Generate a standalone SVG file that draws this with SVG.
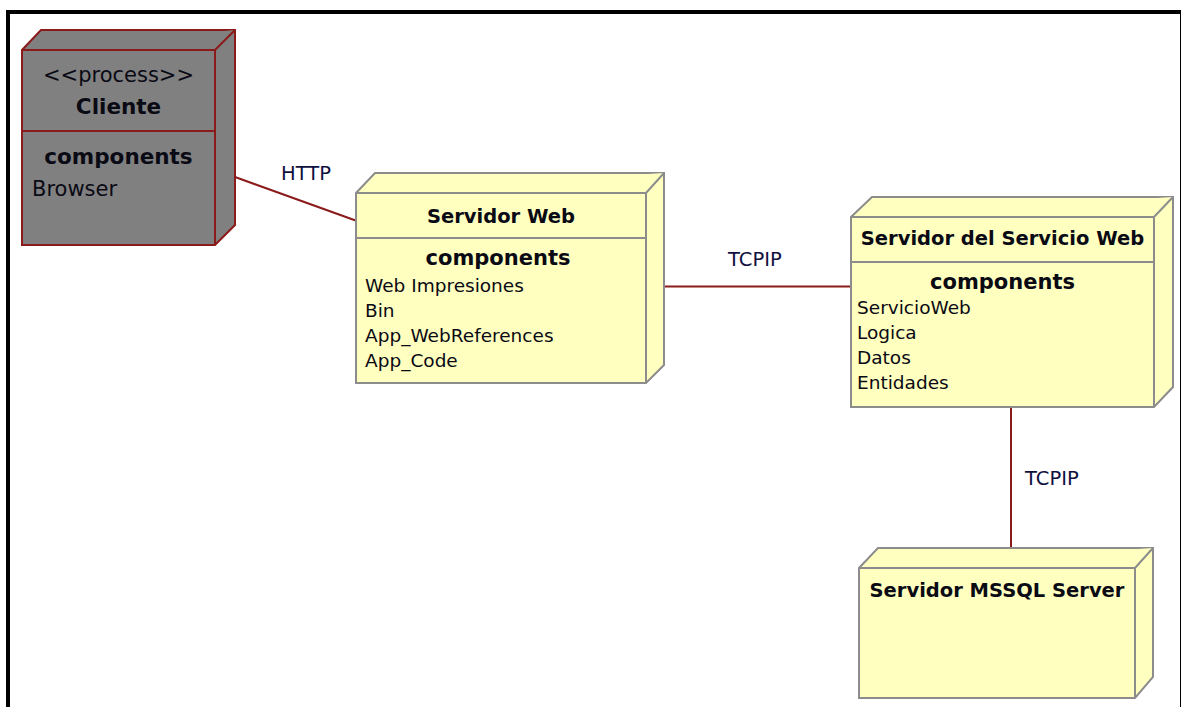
<svg xmlns="http://www.w3.org/2000/svg" width="1181" height="707" viewBox="0 0 1181 707">
  <style>
    .node-y { fill: #ffffc0; stroke: #8c8c8c; stroke-width: 2; stroke-linejoin: miter; }
    .node-g { fill: #808080; stroke: #8b1a1a; stroke-width: 2; stroke-linejoin: miter; }
    .conn { fill: none; stroke: #8b1a1a; stroke-width: 2; }
    text { font-family: "DejaVu Sans", Verdana, sans-serif; fill: #0a0a14; }
    .title { font-weight: bold; font-size: 19.5px; text-anchor: middle; }
    .sect { font-weight: bold; font-size: 21px; text-anchor: middle; }
    .item { font-size: 18.5px; }
    .lbl { font-size: 19.5px; fill: #101040; }
    .big-title { font-weight: bold; font-size: 21.5px; text-anchor: middle; }
    .big-item { font-size: 21px; }
  </style>

  <rect width="1181" height="707" fill="#fff"/>
  <!-- canvas frame: heavy top and left edges, hairline right edge -->
  <path d="M8 707 V12 H1181" fill="none" stroke="#000" stroke-width="4"/>
  <line x1="1180.5" y1="10" x2="1180.5" y2="707" stroke="#000" stroke-width="1"/>

  <!-- connectors -->
  <g id="connectors">
    <line class="conn" x1="235" y1="177" x2="357" y2="221"/>
    <text class="lbl" x="281" y="180">HTTP</text>
    <line class="conn" x1="665" y1="286.5" x2="851" y2="286.5"/>
    <text class="lbl" x="728" y="266">TCPIP</text>
    <line class="conn" x1="1011" y1="407" x2="1011" y2="548"/>
    <text class="lbl" x="1025" y="485">TCPIP</text>
  </g>

  <!-- Cliente -->
  <g id="cliente">
    <path class="node-g" d="M22 50 L41 30 H235 V225 L215 245 H22 Z"/>
    <path class="node-g" d="M22 50 H215 L235 30 M215 50 V245"/>
    <line x1="22" y1="131" x2="215" y2="131" stroke="#8b1a1a" stroke-width="2"/>
    <text class="big-item" x="118.5" y="82" text-anchor="middle" fill="#202028">&lt;&lt;process&gt;&gt;</text>
    <text class="big-title" x="118.5" y="114">Cliente</text>
    <text class="big-title" x="118.5" y="164">components</text>
    <text class="big-item" x="32" y="196">Browser</text>
  </g>

  <!-- Servidor Web -->
  <g id="servidor-web">
    <path class="node-y" d="M356 193 L375 173 H664 V365 L646 383 H356 Z"/>
    <path class="node-y" d="M356 193 H646 L664 173 M646 193 V383" fill="none"/>
    <line x1="356" y1="238" x2="646" y2="238" stroke="#8c8c8c" stroke-width="2"/>
    <text class="title" x="501" y="223">Servidor Web</text>
    <text class="sect" x="498" y="265">components</text>
    <text class="item" x="365" y="292">Web Impresiones</text>
    <text class="item" x="365" y="317">Bin</text>
    <text class="item" x="365" y="342">App_WebReferences</text>
    <text class="item" x="365" y="367">App_Code</text>
  </g>

  <!-- Servidor del Servicio Web -->
  <g id="servidor-servicio-web">
    <path class="node-y" d="M851 217 L872 197 H1173 V387 L1154 407 H851 Z"/>
    <path class="node-y" d="M851 217 H1154 L1173 197 M1154 217 V407" fill="none"/>
    <line x1="851" y1="262" x2="1154" y2="262" stroke="#8c8c8c" stroke-width="2"/>
    <text class="title" x="1002.5" y="245">Servidor del Servicio Web</text>
    <text class="sect" x="1002.5" y="289">components</text>
    <text class="item" x="857" y="314">ServicioWeb</text>
    <text class="item" x="857" y="339">Logica</text>
    <text class="item" x="857" y="364">Datos</text>
    <text class="item" x="857" y="389">Entidades</text>
  </g>

  <!-- Servidor MSSQL Server -->
  <g id="servidor-mssql">
    <path class="node-y" d="M859 568 L878 548 H1153 V677 L1135 698 H859 Z"/>
    <path class="node-y" d="M859 568 H1135 L1153 548 M1135 568 V698" fill="none"/>
    <text class="title" x="997" y="597">Servidor MSSQL Server</text>
  </g>
</svg>
